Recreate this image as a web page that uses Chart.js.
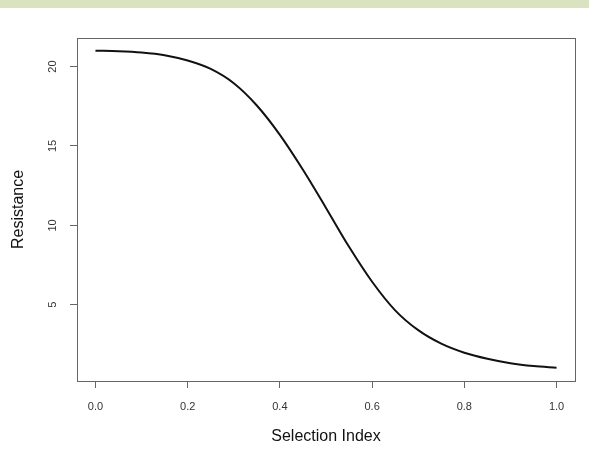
<!DOCTYPE html>
<html>
<head>
<meta charset="utf-8">
<script src="https://cdn.jsdelivr.net/npm/chart.js@4"></script>
<style>
  html, body { margin: 0; padding: 0; background: #fff; }
  #topbar { width: 589px; height: 8px; background: #d9e3bf; }
  #wrap { position: relative; width: 589px; height: 444px; }
</style>
</head>
<body>
<div id="topbar"></div>
<div id="wrap"><canvas id="curveChart"></canvas></div>
<script>
// Values
const selectionIndex = [0, 0.05, 0.1, 0.15, 0.2, 0.25, 0.3, 0.35, 0.4, 0.45, 0.5,
                        0.55, 0.6, 0.65, 0.7, 0.75, 0.8, 0.85, 0.9, 0.95, 1.0];
const resistance = [21.0, 20.97, 20.89, 20.72, 20.38, 19.85, 18.95, 17.55, 15.7, 13.5, 11.1,
                    8.65, 6.45, 4.65, 3.4, 2.55, 1.98, 1.6, 1.32, 1.14, 1.03];
const xTicks = [0, 0.2, 0.4, 0.6, 0.8, 1.0];
const yTicks = [5, 10, 15, 20];

const points = selectionIndex.map((x, i) => ({ x: x, y: resistance[i] }));

// draw the R style box round the plot area
const boxPlugin = {
    id: 'box',
    afterDraw(chart) {
        const a = chart.chartArea;
        const ctx = chart.ctx;
        ctx.save();
        ctx.strokeStyle = '#666';
        ctx.lineWidth = 1;
        ctx.strokeRect(Math.round(a.left) + 0.5, Math.round(a.top) + 0.5,
                       Math.round(a.right - a.left), Math.round(a.bottom - a.top));
        ctx.restore();
    }
};

const font = 'Liberation Sans, Arial, sans-serif';

new Chart(document.getElementById('curveChart').getContext('2d'), {
    type: 'line',
    data: {
        datasets: [{
            data: points,
            borderColor: '#111',
            borderWidth: 2,
            pointRadius: 0,
            fill: false,
            cubicInterpolationMode: 'monotone',
        }]
    },
    plugins: [boxPlugin],
    options: {
        responsive: true,
        maintainAspectRatio: false,
        animation: false,
        layout: { padding: { top: 30, right: 14, bottom: 0, left: 0 } },
        plugins: { legend: { display: false }, tooltip: { enabled: false } },
        scales: {
            x: {
                type: 'linear',
                min: -0.04,
                max: 1.04,
                afterBuildTicks: (s) => { s.ticks = xTicks.map(v => ({ value: v })); },
                afterFit: (s) => { s.height = 71; },
                grid: { drawOnChartArea: false, drawTicks: true, tickLength: 7, color: '#666' },
                border: { display: false },
                ticks: {
                    color: '#333',
                    padding: 12,
                    maxRotation: 0,
                    font: { family: font, size: 11 },
                    callback: (v) => Number(v).toFixed(1),
                },
                title: {
                    display: true,
                    text: 'Selection Index',
                    color: '#111',
                    font: { family: font, size: 16 },
                    padding: { top: 0, bottom: 6 },
                },
            },
            y: {
                min: 0.2,
                max: 21.8,
                afterBuildTicks: (s) => { s.ticks = yTicks.map(v => ({ value: v })); },
                afterFit: (s) => { s.width = 77; },
                grid: { drawOnChartArea: false, drawTicks: true, tickLength: 7, color: '#666' },
                border: { display: false },
                ticks: {
                    color: '#333',
                    padding: 11,
                    minRotation: 90,
                    maxRotation: 90,
                    crossAlign: 'center',
                    font: { family: font, size: 11 },
                },
                title: {
                    display: true,
                    text: 'Resistance',
                    color: '#111',
                    font: { family: font, size: 16 },
                    padding: { top: 9, bottom: 0 },
                },
            },
        },
    },
});
</script>
</body>
</html>
